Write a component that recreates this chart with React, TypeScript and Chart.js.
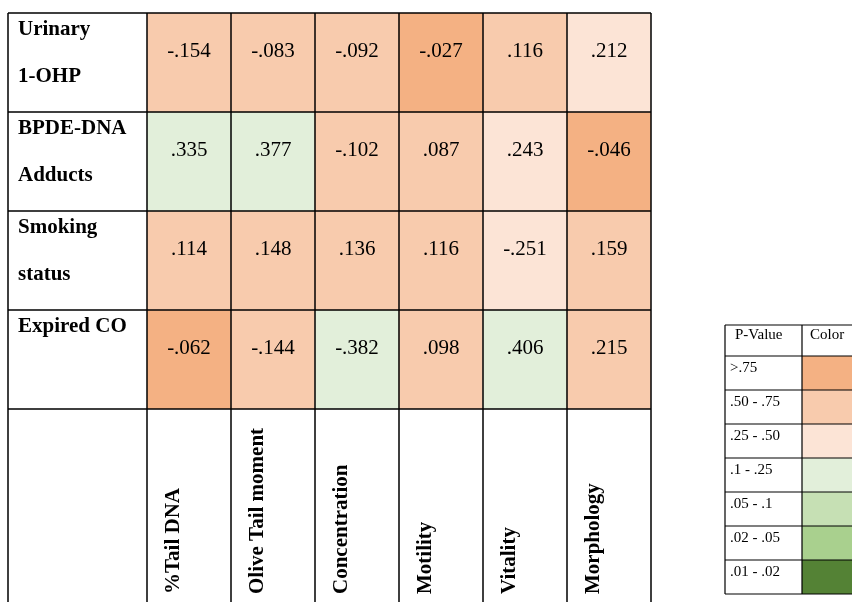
import React, { useEffect, useRef } from "react";
import { Chart, registerables } from "chart.js";

Chart.register(...registerables);

const columns = ["%Tail DNA", "Olive Tail moment", "Concentration", "Motility", "Vitality", "Morphology"];
const rowLabels: string[][] = [
  ["Urinary", "1-OHP"],
  ["BPDE-DNA", "Adducts"],
  ["Smoking", "status"],
  ["Expired CO"],
];
const urinaryValues = [-0.154, -0.083, -0.092, -0.027, 0.116, 0.212];
const bpdeValues = [0.335, 0.377, -0.102, 0.087, 0.243, -0.046];
const smokingValues = [0.114, 0.148, 0.136, 0.116, -0.251, 0.159];
const expiredValues = [-0.062, -0.144, -0.382, 0.098, 0.406, 0.215];
// p-value class index (0 = ">.75", 1 = ".50 - .75", 2 = ".25 - .50", 3 = ".1 - .25", ...)
const urinaryLevels = [1, 1, 1, 0, 1, 2];
const bpdeLevels = [3, 3, 1, 1, 2, 0];
const smokingLevels = [1, 1, 1, 1, 2, 1];
const expiredLevels = [0, 1, 3, 1, 3, 1];

const legendLabels = [">.75", ".50 - .75", ".25 - .50", ".1 - .25", ".05 - .1", ".02 - .05", ".01 - .02"];
const legendColors = ["#F4B183", "#F8CBAD", "#FCE4D6", "#E2EFDA", "#C6E0B4", "#A9D08E", "#548235"];

const rowValues = [urinaryValues, bpdeValues, smokingValues, expiredValues];
const rowLevels = [urinaryLevels, bpdeLevels, smokingLevels, expiredLevels];

const fmt = (v: number) => v.toFixed(3).replace("0.", ".");

const SERIF = '"Liberation Serif", "Times New Roman", serif';

const tablePlugin = {
  id: "tablePlugin",
  afterDatasetsDraw(chart: any) {
    const ctx: CanvasRenderingContext2D = chart.ctx;
    const xs = chart.scales.x;
    const ys = chart.scales.y;
    const H = chart.height;
    const half = (xs.getPixelForValue(1) - xs.getPixelForValue(0)) / 2;
    const tableLeft = 8;
    const bounds: number[] = [tableLeft];
    for (let k = 0; k < columns.length; k++) bounds.push(xs.getPixelForValue(k) - half);
    bounds.push(xs.getPixelForValue(columns.length - 1) + half);
    const top = ys.getPixelForValue(0);

    ctx.save();
    ctx.fillStyle = "#000";
    // values
    ctx.font = `21px ${SERIF}`;
    ctx.textAlign = "center";
    ctx.textBaseline = "alphabetic";
    rowValues.forEach((vals, r) => {
      const y0 = ys.getPixelForValue(r);
      vals.forEach((v, c) => {
        ctx.fillText(fmt(v), xs.getPixelForValue(c), y0 + 44);
      });
    });
    // row labels
    ctx.font = `bold 21px ${SERIF}`;
    ctx.textAlign = "left";
    rowLabels.forEach((lines, r) => {
      const y0 = ys.getPixelForValue(r);
      lines.forEach((t, i) => ctx.fillText(t, 18, y0 + 21.5 + i * 47.5));
    });
    // column labels (rotated)
    columns.forEach((t, c) => {
      ctx.save();
      ctx.translate(bounds[c + 1] + 31.5, 594);
      ctx.rotate(-Math.PI / 2);
      ctx.fillText(t, 0, 0);
      ctx.restore();
    });

    // grid lines
    ctx.strokeStyle = "#000";
    ctx.lineWidth = 1.5;
    ctx.beginPath();
    bounds.forEach((x) => {
      ctx.moveTo(x, top);
      ctx.lineTo(x, H);
    });
    for (let r = 0; r <= rowValues.length; r++) {
      const y = ys.getPixelForValue(r);
      ctx.moveTo(tableLeft, y);
      ctx.lineTo(bounds[bounds.length - 1], y);
    }
    ctx.stroke();

    // legend table
    const lx = 725;
    const ldiv = 802;
    const lr = chart.width;
    const ltop = 325;
    const lhead = 356;
    const lrow = 34;
    legendColors.forEach((col, i) => {
      ctx.fillStyle = col;
      ctx.fillRect(ldiv, lhead + i * lrow, lr - ldiv, lrow);
    });
    ctx.fillStyle = "#000";
    ctx.font = `15px ${SERIF}`;
    ctx.textAlign = "left";
    ctx.fillText("P-Value", 735, ltop + 14);
    ctx.fillText("Color", 810, ltop + 14);
    legendLabels.forEach((t, i) => {
      ctx.fillText(t, 730, lhead + i * lrow + 15.5);
    });
    ctx.lineWidth = 1.2;
    ctx.beginPath();
    const lbottom = lhead + legendLabels.length * lrow;
    ctx.moveTo(lx, ltop);
    ctx.lineTo(lx, lbottom);
    ctx.moveTo(ldiv, ltop);
    ctx.lineTo(ldiv, lbottom);
    ctx.moveTo(lx, ltop);
    ctx.lineTo(lr, ltop);
    for (let i = 0; i <= legendLabels.length; i++) {
      const y = lhead + i * lrow;
      ctx.moveTo(lx, y);
      ctx.lineTo(lr, y);
    }
    ctx.stroke();
    ctx.restore();
  },
};

export default function App() {
  const ref = useRef<HTMLCanvasElement | null>(null);
  useEffect(() => {
    if (!ref.current) return;
    const chart = new Chart(ref.current, {
      type: "bar",
      data: {
        labels: columns,
        datasets: rowValues.map((vals, r) => ({
          label: rowLabels[r].join(" "),
          data: vals.map(() => [r, r + 1]) as any,
          backgroundColor: rowLevels[r].map((l) => legendColors[l]),
          borderWidth: 0,
          barPercentage: 1,
          categoryPercentage: 1,
          grouped: false,
        })),
      },
      options: {
        animation: false,
        responsive: true,
        maintainAspectRatio: false,
        layout: { padding: { left: 147, right: 201, top: 13, bottom: 193 } },
        plugins: { legend: { display: false }, tooltip: { enabled: false } },
        scales: {
          x: { type: "category", display: false, offset: true },
          y: { type: "linear", display: false, min: 0, max: 4, reverse: true },
        },
      },
      plugins: [tablePlugin],
    });
    return () => chart.destroy();
  }, []);
  return (
    <div style={{ position: "fixed", left: 0, top: 0, width: 852, height: 602, background: "#fff" }}>
      <canvas ref={ref} />
    </div>
  );
}
